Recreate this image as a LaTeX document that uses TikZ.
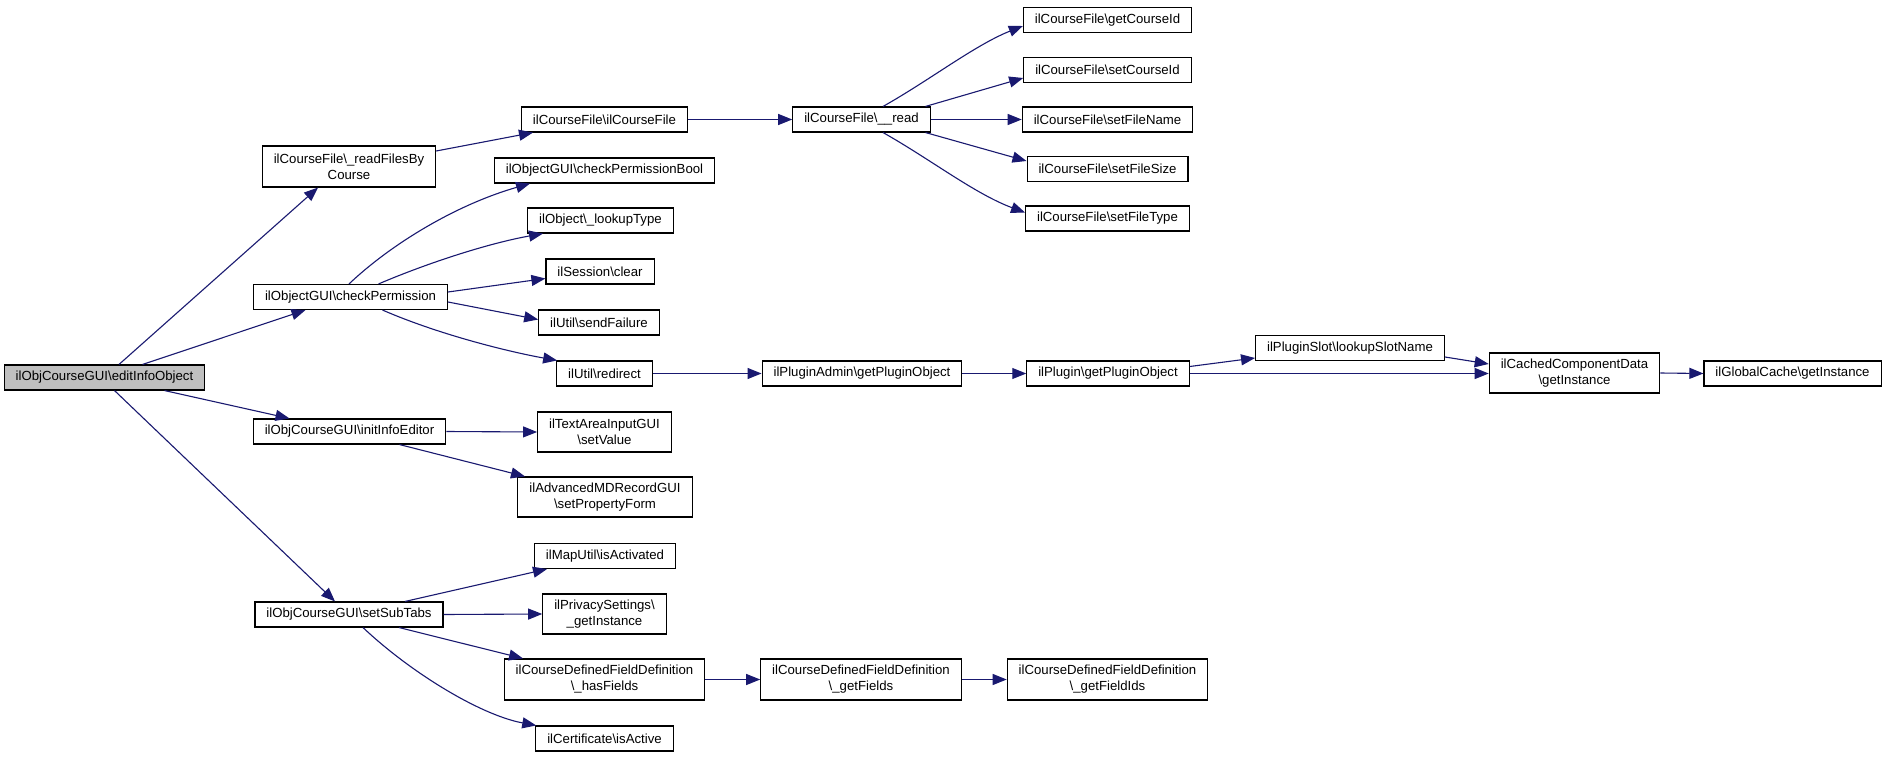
\documentclass[tikz,border=0pt]{standalone}
\usepackage{fontspec}
\setmainfont{Liberation Sans}
\usetikzlibrary{arrows.meta}
\definecolor{edgeblue}{HTML}{191970}
\definecolor{rootgrey}{HTML}{BFBFBF}
\newcommand{\bs}{\textbackslash}
\begin{document}
\begin{tikzpicture}[x=1pt,y=-1pt,
  box/.style={draw=black,line width=1.1pt,fill=white,inner xsep=11.5pt,inner ysep=0pt,
    minimum height=25pt,align=center,font=\fontsize{13.2}{16}\selectfont},
  dbox/.style={box,minimum height=41pt},
  rootbox/.style={box,fill=rootgrey},
  edge/.style={draw=edgeblue,line width=1.1pt,-{Triangle[length=14pt,width=11pt]}}]
\useasboundingbox[fill=white] (0,0) rectangle (1887,757);
% column 0
\node[rootbox] (edit) at (104.5,377.5) {ilObjCourseGUI\bs editInfoObject};
% column 1
\node[dbox] (rfc) at (349,166.5) {ilCourseFile\bs\_readFilesBy\\Course};
\node[box] (chk) at (350.5,297) {ilObjectGUI\bs checkPermission};
\node[box] (ini) at (349.5,431.5) {ilObjCourseGUI\bs initInfoEditor};
\node[box] (sub) at (349,614.5) {ilObjCourseGUI\bs setSubTabs};
% column 2
\node[box] (cf) at (604.5,119.5) {ilCourseFile\bs ilCourseFile};
\node[box] (bool) at (604.5,170.5) {ilObjectGUI\bs checkPermissionBool};
\node[box] (lt) at (600.5,220.5) {ilObject\bs\_lookupType};
\node[box] (clr) at (600,271.5) {ilSession\bs clear};
\node[box] (sf) at (599,322.5) {ilUtil\bs sendFailure};
\node[box] (rdr) at (604.5,373.5) {ilUtil\bs redirect};
\node[dbox,minimum height=40pt] (ta) at (604.5,432) {ilTextAreaInputGUI\\\bs setValue};
\node[dbox,minimum height=40pt] (adv) at (605,497) {ilAdvancedMDRecordGUI\\\bs setPropertyForm};
\node[box] (mu) at (605,556) {ilMapUtil\bs isActivated};
\node[dbox,minimum height=40pt] (pv) at (604.5,614) {ilPrivacySettings\bs\\\_getInstance};
\node[dbox] (hf) at (604.5,679.5) {ilCourseDefinedFieldDefinition\\\bs\_hasFields};
\node[box] (ia) at (604.5,738.5) {ilCertificate\bs isActive};
% column 3
\node[box] (rd) at (861.5,119.5) {ilCourseFile\bs\_\_read};
\node[box] (pa) at (862,373.5) {ilPluginAdmin\bs getPluginObject};
\node[dbox] (gf) at (861,679.5) {ilCourseDefinedFieldDefinition\\\bs\_getFields};
% column 4
\node[box] (gci) at (1107.5,20) {ilCourseFile\bs getCourseId};
\node[box] (sci) at (1107.5,70) {ilCourseFile\bs setCourseId};
\node[box] (sfn) at (1107.5,119.5) {ilCourseFile\bs setFileName};
\node[box] (sfs) at (1107.5,169) {ilCourseFile\bs setFileSize};
\node[box] (sft) at (1107.5,218.5) {ilCourseFile\bs setFileType};
\node[box] (pl) at (1108,373.5) {ilPlugin\bs getPluginObject};
\node[dbox] (gfi) at (1107.5,679.5) {ilCourseDefinedFieldDefinition\\\bs\_getFieldIds};
% further columns
\node[box] (ps) at (1350,348) {ilPluginSlot\bs lookupSlotName};
\node[dbox,minimum height=40pt] (cc) at (1574.5,373) {ilCachedComponentData\\\bs getInstance};
\node[box] (gc) at (1792.5,373.5) {ilGlobalCache\bs getInstance};
% edges from root
\draw[edge] ([xshift=14.5pt]edit.north) -- ([xshift=-31pt]rfc.south);
\draw[edge] ([xshift=38pt]edit.north) -- ([xshift=-45pt]chk.south);
\draw[edge] ([xshift=60pt]edit.south) -- ([xshift=-60pt]ini.north);
\draw[edge] ([xshift=10pt]edit.south) -- ([xshift=-14pt]sub.north);
% readFilesByCourse
\draw[edge] ([yshift=15.5pt]rfc.east) -- ([xshift=-71.5pt]cf.south);
\draw[edge] (cf.east) -- (rd.west);
% __read
\draw[edge] ([xshift=21.5pt]rd.north) .. controls (930,80) and (975,45) .. ([yshift=-6pt]gci.west);
\draw[edge] ([xshift=64pt]rd.north) -- ([yshift=-8pt]sci.west);
\draw[edge] (rd.east) -- (sfn.west);
\draw[edge] ([xshift=64pt]rd.south) -- ([yshift=8pt]sfs.west);
\draw[edge] ([xshift=21.5pt]rd.south) .. controls (930,159) and (975,194) .. ([yshift=6pt]sft.west);
% checkPermission
\draw[edge] ([xshift=-1.5pt]chk.north) .. controls (390,245) and (455,205) .. ([xshift=-74.5pt]bool.south);
\draw[edge] ([xshift=28pt]chk.north) .. controls (430,262) and (490,243) .. ([xshift=-57.5pt]lt.south);
\draw[edge] ([yshift=5pt]chk.east) -- ([yshift=-7pt]clr.west);
\draw[edge] ([yshift=-5pt]chk.east) -- ([yshift=3pt]sf.west);
\draw[edge] ([xshift=32pt]chk.south) .. controls (440,335) and (510,352) .. ([xshift=1pt]rdr.north west);
% plugin chain
\draw[edge] (rdr.east) -- (pa.west);
\draw[edge] (pa.east) -- (pl.west);
\draw[edge] ([yshift=7pt]pl.east) -- ([yshift=-10pt]ps.west);
\draw[edge] (pl.east) -- (pl.east -| cc.west);
\draw[edge] ([yshift=-9pt]ps.east) -- ([yshift=9pt]cc.west);
\draw[edge] (cc.east) -- (gc.west);
% initInfoEditor
\draw[edge] (ini.east) -- (ta.west);
\draw[edge] ([xshift=50pt]ini.south) -- ([xshift=-80pt]adv.north);
% setSubTabs
\draw[edge] ([xshift=56pt]sub.north) -- ([xshift=-58pt]mu.south);
\draw[edge] (sub.east) -- (pv.west);
\draw[edge] ([xshift=50pt]sub.south) -- ([xshift=-81.5pt]hf.north);
\draw[edge] ([xshift=14pt]sub.south) .. controls (410,672) and (480,715) .. ([xshift=1pt]ia.north west);
\draw[edge] (hf.east) -- (gf.west);
\draw[edge] (gf.east) -- (gfi.west);
\end{tikzpicture}
\end{document}
